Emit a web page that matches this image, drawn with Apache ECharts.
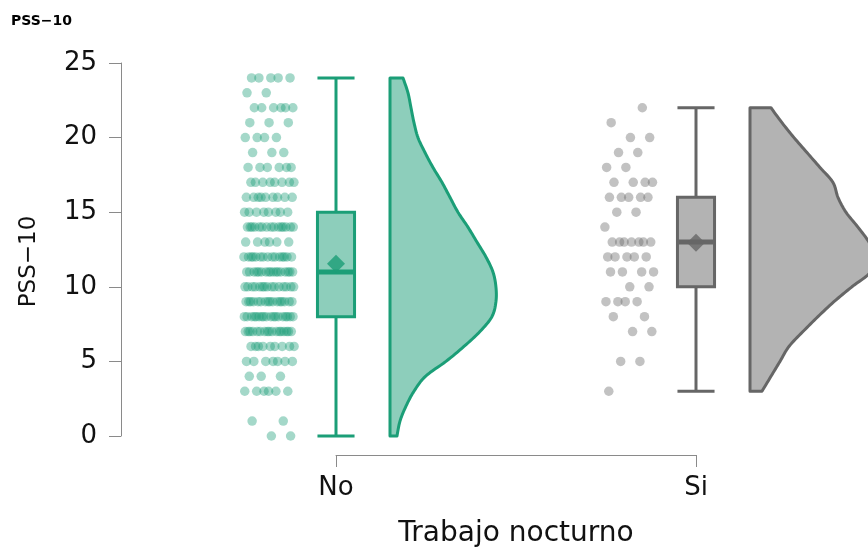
<!DOCTYPE html>
<html>
<head>
<meta charset="utf-8">
<script src="https://cdn.jsdelivr.net/npm/echarts@6/dist/echarts.min.js"></script>
<style>
  html, body { margin: 0; padding: 0; background: #ffffff; }
  #chart { width: 868px; height: 557px; }
</style>
</head>
<body>
<div id="chart"></div>
<script>
// ---- data -------------------------------------------------------------
const groups = ['No', 'Si'];
const yTicks = [0, 5, 10, 15, 20, 25];

// number of respondents at each PSS-10 score (0..24)
const scoreLevels = [0,1,2,3,4,5,6,7,8,9,10,11,12,13,14,15,16,17,18,19,20,21,22,23,24];
const noCounts    = [2,2,0,6,3,7,9,17,18,16,15,17,15,6,15,8,9,8,6,3,4,3,6,2,5];
const siCounts    = [0,0,0,1,0,2,0,2,2,4,2,4,5,7,1,2,5,4,2,2,2,1,1,0,0];

// box summaries: [min, Q1, median, Q3, max]
const noBox = [0, 8, 11, 15, 24];
const siBox = [3, 10, 13, 16, 22];
const groupMeans = [11.55, 12.95];

// kernel density, evaluated at integer scores inside each group's range
const noDensityLevels = [0,1,2,3,4,5,6,7,8,9,10,11,12,13,14,15,16,17,18,19,20,21,22,23,24];
const noDensity = [0.0056,0.0080,0.0128,0.0192,0.0284,0.0448,0.0592,0.0720,0.0816,0.0848,0.0848,0.0824,0.0768,
                   0.0696,0.0624,0.0544,0.0480,0.0416,0.0344,0.0280,0.0224,0.0192,0.0168,0.0144,0.0104];
const siDensityLevels = [3,4,5,6,7,8,9,10,11,12,13,14,15,16,17,18,19,20,21,22];
const siDensity = [0.0096,0.0168,0.0240,0.0312,0.0424,0.0544,0.0672,0.0816,0.0968,0.1008,
                   0.0952,0.0864,0.0768,0.0704,0.0664,0.0560,0.0456,0.0352,0.0256,0.0168];

// ---- styling ----------------------------------------------------------
const FONT = 'DejaVu Sans';
const axisGrey = '#8a8a8a';
const lineColors = ['#1b9e77', '#666666'];
const fillColors = ['#8dcebb', '#b3b3b3'];
const pointColors = ['rgba(27,158,119,0.5)', 'rgba(102,102,102,0.5)'];
const pointOffset = -0.186;   // cloud of points, left of the box
const jitterHalf = 0.07;
const boxHalf = 0.0515;
const violinOffset = 0.15;    // half violin, right of the box
const violinScale = 3.47;     // x-units per density unit

// ---- build marks ------------------------------------------------------
const countsByGroup = [noCounts, siCounts];
const pointSeriesData = [[], []];
countsByGroup.forEach((counts, g) => {
  let idx = 0;
  scoreLevels.forEach((score, li) => {
    for (let k = 0; k < counts[li]; k++) {
      idx++;
      const u = (idx * 0.6180339887 + 0.31 + g * 0.17) % 1;
      pointSeriesData[g].push([g + pointOffset + (u - 0.5) * 2 * jitterHalf, score]);
    }
  });
});

const boxData = [[0].concat(noBox), [1].concat(siBox)];
const violinData = [
  { group: 0, levels: noDensityLevels, dens: noDensity },
  { group: 1, levels: siDensityLevels, dens: siDensity }
];

function catmullRom(pts, steps) {
  const out = [];
  for (let i = 0; i < pts.length - 1; i++) {
    const p0 = pts[Math.max(i - 1, 0)], p1 = pts[i], p2 = pts[i + 1], p3 = pts[Math.min(i + 2, pts.length - 1)];
    for (let s = 0; s < steps; s++) {
      const t = s / steps, t2 = t * t, t3 = t2 * t;
      out.push([0, 1].map(j => 0.5 * ((2 * p1[j]) + (-p0[j] + p2[j]) * t +
        (2 * p0[j] - 5 * p1[j] + 4 * p2[j] - p3[j]) * t2 +
        (-p0[j] + 3 * p1[j] - 3 * p2[j] + p3[j]) * t3)));
    }
  }
  out.push(pts[pts.length - 1]);
  return out;
}

const chart = echarts.init(document.getElementById('chart'), null, { renderer: 'canvas' });

const option = {
  backgroundColor: '#ffffff',
  animation: false,
  title: {
    text: 'PSS\u221210', left: 6, top: 9,
    textStyle: { fontFamily: FONT, fontSize: 14, fontWeight: 'bold', color: '#000' }
  },
  grid: { left: 336, right: 172, top: 63, bottom: 121, containLabel: false, outerBoundsMode: 'none' },
  xAxis: [
    {
      type: 'category', data: groups, boundaryGap: false, offset: 19,
      axisLine: { show: true, onZero: false, lineStyle: { color: axisGrey, width: 1 } },
      axisTick: { show: true, length: 12, lineStyle: { color: axisGrey, width: 1 } },
      axisLabel: { fontFamily: FONT, fontSize: 26, color: '#111', margin: 20 },
      splitLine: { show: false },
      name: 'Trabajo nocturno', nameLocation: 'middle', nameGap: 65,
      nameTextStyle: { fontFamily: FONT, fontSize: 28, color: '#111' }
    },
    { type: 'value', min: 0, max: 1, show: false }
  ],
  yAxis: {
    type: 'value', min: yTicks[0], max: yTicks[yTicks.length - 1], interval: yTicks[1] - yTicks[0],
    offset: 215,
    axisLine: { show: true, onZero: false, lineStyle: { color: axisGrey, width: 1 } },
    axisTick: { show: true, length: 12, lineStyle: { color: axisGrey, width: 1 } },
    axisLabel: { fontFamily: FONT, fontSize: 26, color: '#111', margin: 24 },
    splitLine: { show: false },
    name: 'PSS\u221210', nameLocation: 'middle', nameGap: 80,
    nameTextStyle: { fontFamily: FONT, fontSize: 23, color: '#111', padding: [0, 24, 0, 0] }
  },
  series: [
    // raw observations
    ...[0, 1].map(g => ({
      type: 'scatter', xAxisIndex: 1, yAxisIndex: 0, clip: false, silent: true,
      symbol: 'circle', symbolSize: 9.5,
      itemStyle: { color: pointColors[g] },
      data: pointSeriesData[g]
    })),
    // half violins
    {
      type: 'custom', xAxisIndex: 1, yAxisIndex: 0, silent: true,
      data: violinData.map(v => [v.group]),
      renderItem: function (params, api) {
        const v = violinData[params.dataIndex];
        const g = v.group;
        const x0 = g + violinOffset;
        const n = v.levels.length;
        const edge = [];
        for (let i = n - 1; i >= 0; i--) {
          edge.push(api.coord([x0 + v.dens[i] * violinScale, v.levels[i]]));
        }
        const smooth = catmullRom(edge, 8);
        const pts = [api.coord([x0, v.levels[n - 1]])].concat(smooth, [api.coord([x0, v.levels[0]])]);
        return {
          type: 'polygon',
          shape: { points: pts },
          style: { fill: fillColors[g], stroke: lineColors[g], lineWidth: 3, lineJoin: 'round' }
        };
      }
    },
    // box plots
    {
      type: 'custom', xAxisIndex: 1, yAxisIndex: 0, silent: true,
      data: boxData,
      renderItem: function (params, api) {
        const g = api.value(0);
        const mn = api.value(1), q1 = api.value(2), md = api.value(3), q3 = api.value(4), mx = api.value(5);
        const L = api.coord([g - boxHalf, q3]);
        const R = api.coord([g + boxHalf, q1]);
        const cTop = api.coord([g, mx]);
        const cBot = api.coord([g, mn]);
        const c3 = api.coord([g, q3]);
        const c1 = api.coord([g, q1]);
        const m = api.coord([g, md]);
        const col = lineColors[g];
        const ls = { stroke: col, lineWidth: 3 };
        return {
          type: 'group',
          children: [
            { type: 'line', shape: { x1: cTop[0], y1: cTop[1], x2: c3[0], y2: c3[1] }, style: ls },
            { type: 'line', shape: { x1: c1[0], y1: c1[1], x2: cBot[0], y2: cBot[1] }, style: ls },
            { type: 'line', shape: { x1: L[0], y1: cTop[1], x2: R[0], y2: cTop[1] }, style: ls },
            { type: 'line', shape: { x1: L[0], y1: cBot[1], x2: R[0], y2: cBot[1] }, style: ls },
            { type: 'rect', shape: { x: L[0], y: L[1], width: R[0] - L[0], height: R[1] - L[1] },
              style: { fill: fillColors[g], stroke: col, lineWidth: 3 } },
            { type: 'line', shape: { x1: L[0], y1: m[1], x2: R[0], y2: m[1] }, style: { stroke: col, lineWidth: 5 } }
          ]
        };
      }
    },
    // group means
    {
      type: 'scatter', xAxisIndex: 1, yAxisIndex: 0, clip: false, silent: true, z: 5,
      symbol: 'diamond', symbolSize: [18, 18],
      data: groupMeans.map((m, g) => ({ value: [g, m], itemStyle: { color: lineColors[g] } }))
    }
  ]
};

chart.setOption(option);
</script>
</body>
</html>
